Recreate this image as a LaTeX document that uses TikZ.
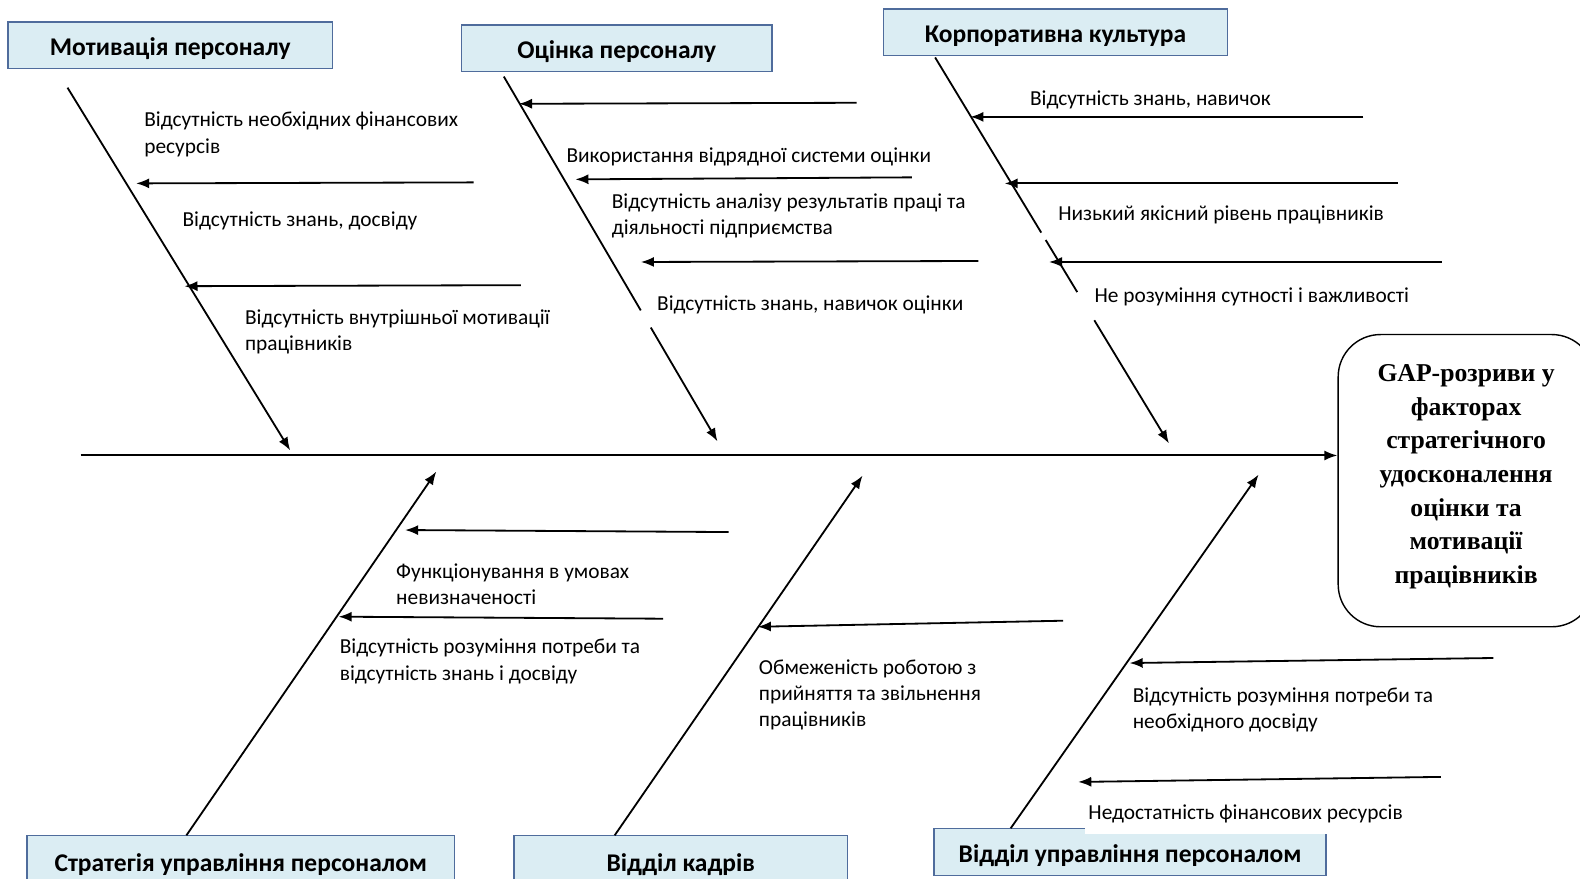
\documentclass[tikz,border=0pt]{standalone}
\usepackage{fontspec}
\setmainfont{Carlito}
\newfontfamily\tnr{Liberation Serif}
\usetikzlibrary{arrows.meta,calc}
\definecolor{boxfill}{RGB}{219,237,243}
\definecolor{boxline}{RGB}{79,108,156}
\begin{document}
\begin{tikzpicture}[x=1pt,y=-1pt,
  cat/.style={draw=boxline, fill=boxfill, line width=1.5pt, inner sep=0pt,
    text height=21pt, text depth=0pt,
    font=\fontsize{25.3}{29}\selectfont\bfseries},
  lbl/.style={font=\fontsize{21.2}{26}\selectfont, align=left, inner sep=0pt, anchor=base west},
  bone/.style={line width=1.8pt},
  arr/.style={line width=1.8pt, -{Latex[length=13pt,width=10pt]}},
  effect/.style={draw, line width=1.4pt, rounded corners=42pt,
    minimum width=254pt, minimum height=290pt, inner sep=0pt},
  effecttext/.style={align=center, inner sep=0pt,
    font=\fontsize{25.5}{33.4}\selectfont\tnr\bfseries}
]
\useasboundingbox (0,0) rectangle (1568,872);
\clip (0,0) rectangle (1568,872);

% category boxes
\node[cat, minimum width=322pt, minimum height=46pt] (c1) at (169,45) {Мотивація персоналу};
\node[cat, minimum width=308pt, minimum height=46pt] (c2) at (612,48) {Оцінка персоналу};
\node[cat, minimum width=341pt, minimum height=46pt] (c3) at (1047.5,32) {Корпоративна культура};
\node[cat, minimum width=424pt, minimum height=51pt] (c4) at (239,854.5) {Стратегія управління персоналом};
\node[cat, minimum width=331pt, minimum height=51pt] (c5) at (675.5,854.5) {Відділ кадрів};
\node[cat, minimum width=389pt, minimum height=47pt] (c6) at (1121.5,845.5) {Відділ управління персоналом};

% effect box
\node[effect] (rbox) at (1455,477) {};
\node[effecttext] (rtext) at (1455,473) {GAP-розриви у\\факторах\\стратегічного\\удосконалення\\оцінки та\\мотивації\\працівників};

% spine
\coordinate (s0) at (80,452);
\draw[line width=2pt, -{Latex[length=13pt,width=10pt]}] (s0) -- (s0 -| rbox.west);

% top bones
\coordinate (b1a) at (67,87);   \coordinate (b1b) at (288,447);
\coordinate (b2a) at (500,76);  \coordinate (b2b) at (712,438);
\coordinate (b3a) at (928,57);  \coordinate (b3b) at (1160,440);
\draw[arr] (b1a) -- (b1b);
\draw[bone] (b2a) -- ($(b2a)!0.641!(b2b)$);
\draw[arr] ($(b2a)!0.688!(b2b)$) -- (b2b);
\draw[bone] (b3a) -- ($(b3a)!0.454!(b3b)$);
\draw[bone] ($(b3a)!0.473!(b3b)$) -- ($(b3a)!0.608!(b3b)$);
\draw[arr] ($(b3a)!0.681!(b3b)$) -- (b3b);

% bottom bones
\coordinate (b4a) at (185,829);  \coordinate (b4b) at (433,468);
\coordinate (b5a) at (610,829);  \coordinate (b5b) at (856,472);
\coordinate (b6a) at (1003,822); \coordinate (b6b) at (1249,471);
\draw[arr] (b4a) -- (b4b);
\draw[arr] (b5a) -- (b5b);
\draw[arr] (b6a) -- (b6b);

% cause arrows
\foreach \i/\sx/\sy/\ex/\ey in {
  1/470/181/135/182, 2/517/283/183/284,
  3/850/102/515/103, 4/905/176/571/178, 5/971/259/636/260,
  6/1353/116/963/116, 7/1387/182/997/182, 8/1431/260/1041/260,
  9/723/528/402/526, 10/658/614/336/612,
  11/1055/616/752/622,
  12/1482/653/1121/658, 13/1430/771/1070/776}{
  \coordinate (r\i s) at (\sx,\sy);
  \coordinate (r\i e) at (\ex,\ey);
  \draw[arr] (r\i s) -- (r\i e);
}

% labels (anchor = baseline of the last line)
\node[lbl] (l1) at (143,152) {Відсутність необхідних фінансових\\ресурсів};
\node[lbl] (l2) at (181,225) {Відсутність знань, досвіду};
\node[lbl] (l3) at (243,348) {Відсутність внутрішньої мотивації\\працівників};
\node[lbl] (l4) at (562,161) {Використання відрядної системи оцінки};
\node[lbl] (l5) at (607,233) {Відсутність аналізу результатів праці та\\діяльності підприємства};
\node[lbl] (l6) at (652,308) {Відсутність знань, навичок оцінки};
\node[lbl] (l7) at (1022,105) {Відсутність знань, навичок};
\node[lbl] (l8) at (1050,219) {Низький якісний рівень працівників};
\node[lbl] (l9) at (1086,300) {Не розуміння сутності і важливості};
\node[lbl] (l10) at (393,600) {Функціонування в умовах\\невизначеності};
\node[lbl] (l11) at (337,675) {Відсутність розуміння потреби та\\відсутність знань і досвіду};
\node[lbl] (l12) at (753,721) {Обмеженість роботою з\\прийняття та звільнення\\працівників};
\node[lbl] (l13) at (1124,723) {Відсутність розуміння потреби та\\необхідного досвіду};
\node[lbl, fill=white, inner xsep=3pt, inner ysep=11pt] (l14) at (1077,813) {Недостатність фінансових ресурсів};
\end{tikzpicture}
\end{document}
